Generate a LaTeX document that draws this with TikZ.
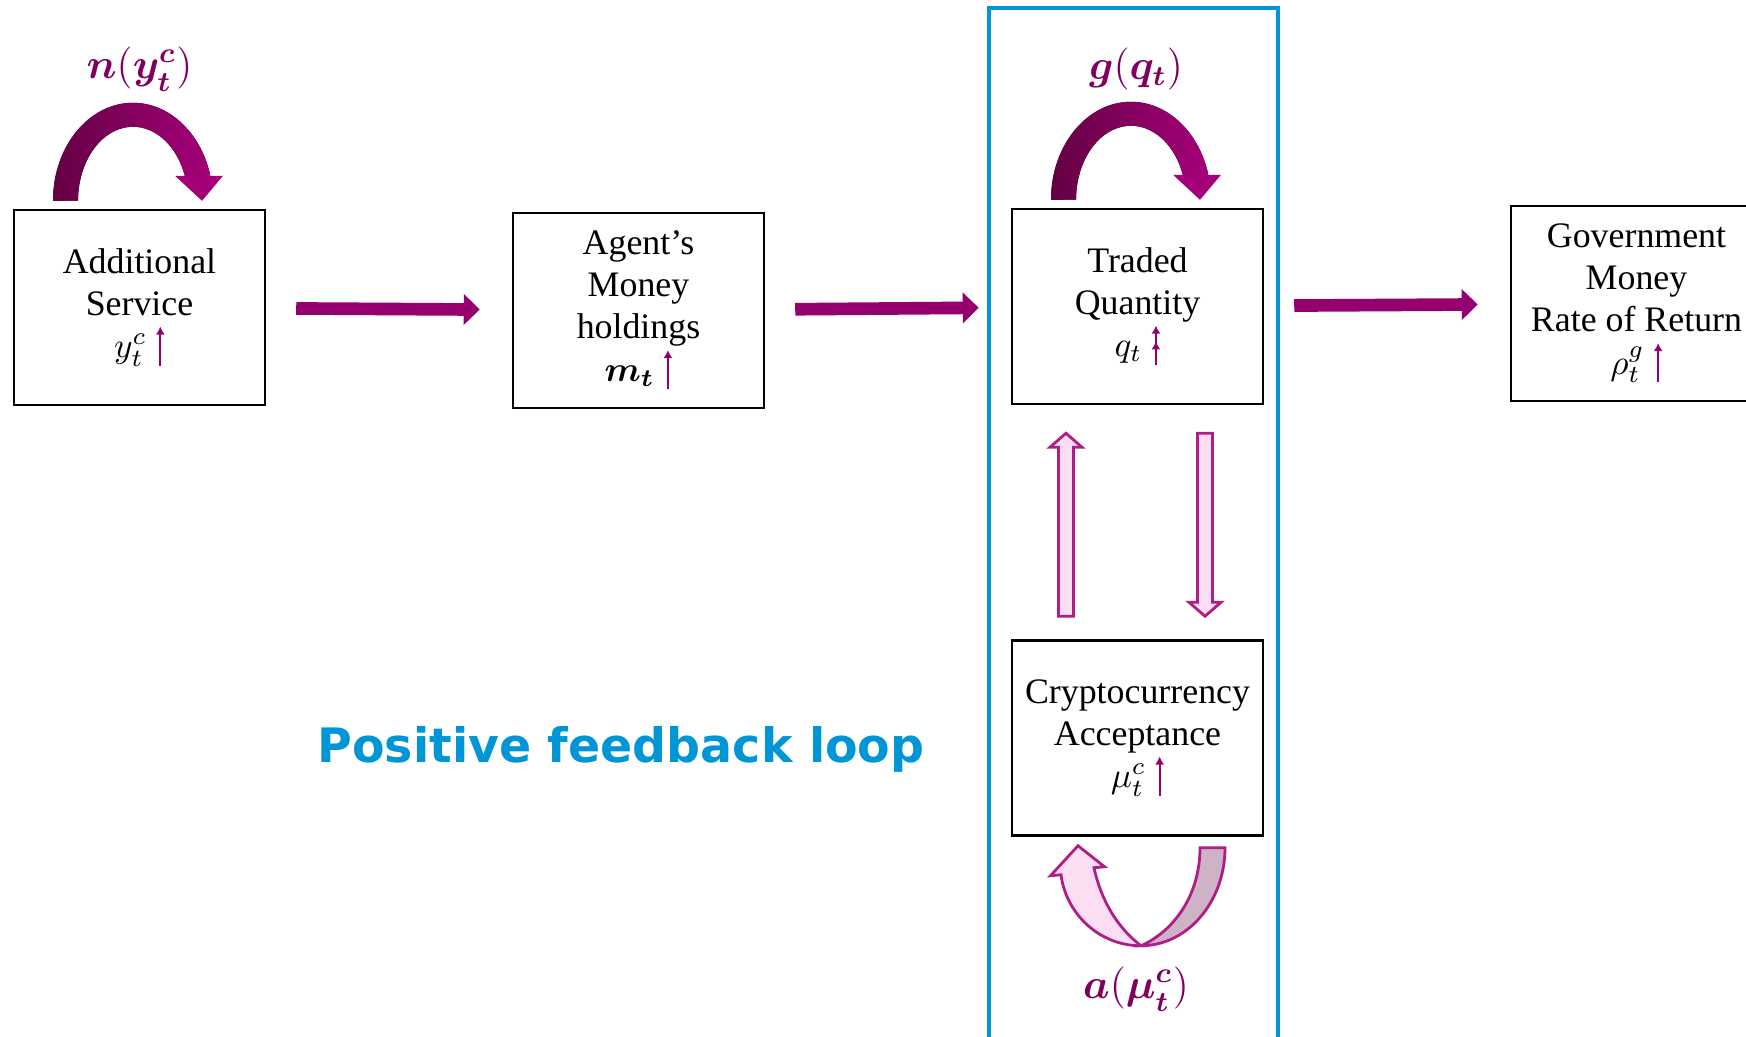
\documentclass[tikz,border=0pt]{standalone}
\usepackage{amsmath,amssymb}
\usepackage{fontspec}
\setmainfont{Liberation Serif}
\newfontfamily\loopfont{DejaVu Sans}
\usepackage{tikz}
\usetikzlibrary{arrows.meta,calc,positioning}
\definecolor{plum}{RGB}{150,0,110}
\definecolor{plumdark}{RGB}{100,0,68}
\definecolor{plumlight}{RGB}{165,0,120}
\definecolor{pinkfill}{RGB}{252,222,242}
\definecolor{mauve}{RGB}{206,178,198}
\definecolor{pinkedge}{RGB}{175,30,135}
\definecolor{loopblue}{RGB}{0,150,214}
\tikzset{
  caja/.style={draw,line width=0.7pt,minimum width=2.51cm,minimum height=1.95cm,
    align=center,inner sep=0pt,font=\fontsize{10.2}{12}\selectfont},
  flecha/.style={plum,line width=3.6pt,-{Triangle[length=0.16cm,width=0.3cm]},
    shorten <=0.3cm,shorten >=0.32cm},
  hueca/.style={fill=pinkfill,draw=pinkedge,line width=0.8pt},
  etiq/.style={plum!85!black,font=\fontsize{11.5}{14}\selectfont},
  marco/.style={draw=loopblue,line width=1.3pt}
}
\newcommand{\sube}{\hspace{2.5pt}\tikz[baseline=0pt]\draw[plum,line width=0.6pt,
  -{Latex[length=2.3pt,width=2.6pt]}] (0,-0.08)--(0,0.31);}
\newcommand{\subedos}{\hspace{2.5pt}\tikz[baseline=0pt]\draw[plum,line width=0.6pt,
  -{Latex[length=2.3pt,width=2.6pt,sep=2.2pt]Latex[length=2.3pt,width=2.6pt]}] (0,-0.08)--(0,0.31);}
% cinta curva sobre una caja (origen en caja.north)
\newcommand{\lazo}{%
  \fill[left color=plumdark,right color=plumlight]
    (-0.865,0.08) arc[start angle=180,end angle=14.8,x radius=0.8,y radius=0.98]
    -- (0.453,0.33) arc[start angle=19.7,end angle=180,x radius=0.55,y radius=0.74] -- cycle;
  \fill[plumlight] (0.355,0.33) -- (0.835,0.33) -- (0.625,0.08) -- cycle;}

\begin{document}
\begin{tikzpicture}
\useasboundingbox (0,0) rectangle (17.46,-10.36);
\clip (0,0) rectangle (17.46,-10.36);

% cajas
\node[caja] (A) at (1.395,-3.075) {Additional\\Service\\$y_t^c$\sube};
\node[caja] (B) at (6.385,-3.105) {Agent’s\\Money\\holdings\\$\boldsymbol{m_t}$\sube};
\node[caja] (C) at (11.375,-3.065) {Traded\\Quantity\\$q_t$\subedos};
\node[caja] (D) at (16.365,-3.035) {Government\\Money\\Rate of Return\\$\rho_t^g$\sube};
\node[caja] (E) at (11.375,-7.38) {Cryptocurrency\\Acceptance\\$\mu_t^c$\sube};

\draw[marco] (9.89,-0.08) rectangle (12.78,-10.6);

% flechas principales
\draw[flecha] (A) -- (B);
\draw[flecha] (B) -- (C);
\draw[flecha] (C) -- (D);

% lazos superiores
\begin{scope}[shift={(A.north)}] \lazo \end{scope}
\begin{scope}[shift={(C.north)}] \lazo \end{scope}
\node[etiq] (nA) at ($(A.north)+(0,1.4)$) {$\boldsymbol{n}(\boldsymbol{y_t^c})$};
\node[etiq] (gC) at ($(C.north)+(-0.015,1.39)$) {$\boldsymbol{g}(\boldsymbol{q_t})$};

% flechas huecas entre C y E
\coordinate (upS) at ($(E.north)+(-0.715,0.23)$);
\coordinate (upT) at ($(C.south)+(-0.715,-0.28)$);
\draw[hueca] ($(upS)+(-0.075,0)$) -- ($(upT)+(-0.075,-0.14)$) -- ($(upT)+(-0.16,-0.14)$) -- (upT)
  -- ($(upT)+(0.16,-0.14)$) -- ($(upT)+(0.075,-0.14)$) -- ($(upS)+(0.075,0)$) -- cycle;
\coordinate (dnS) at ($(C.south)+(0.675,-0.28)$);
\coordinate (dnT) at ($(E.north)+(0.675,0.23)$);
\draw[hueca] ($(dnS)+(-0.075,0)$) -- ($(dnT)+(-0.075,0.14)$) -- ($(dnT)+(-0.16,0.14)$) -- (dnT)
  -- ($(dnT)+(0.16,0.14)$) -- ($(dnT)+(0.075,0.14)$) -- ($(dnS)+(0.075,0)$) -- cycle;

% lazo inferior de E
\begin{scope}[shift={(E.south)}]
\draw[hueca,fill=mauve] (0.625,-0.11) -- (0.875,-0.11) .. controls (0.875,-0.65) and (0.5,-1.09) .. (0.035,-1.09)
  .. controls (0.35,-0.95) and (0.625,-0.6) .. (0.625,-0.11) -- cycle;
\draw[hueca] (0.035,-1.09) .. controls (-0.4,-1.09) and (-0.72,-0.75) .. (-0.765,-0.38) -- (-0.87,-0.39)
  -- (-0.595,-0.09) -- (-0.33,-0.30) -- (-0.435,-0.31) .. controls (-0.35,-0.7) and (-0.15,-0.95) .. (0.035,-1.09) -- cycle;
\end{scope}
\node[etiq] (aE) at ($(E.south)+(-0.015,-1.52)$) {$\boldsymbol{a}(\boldsymbol{\mu_t^c})$};

\node[loopblue,font=\loopfont\bfseries\fontsize{13.5}{16}\selectfont] (pfl) at (6.21,-7.49) {Positive feedback loop};
\end{tikzpicture}
\end{document}
